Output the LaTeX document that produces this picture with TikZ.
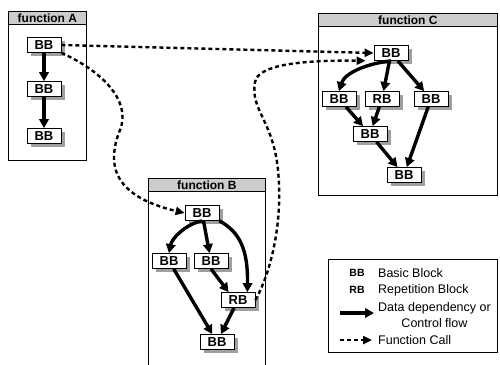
\documentclass[tikz,border=0pt]{standalone}
\usepackage{fontspec}
\setmainfont{Liberation Sans}
\usepackage{tikz}
\usetikzlibrary{arrows.meta,shadows}

\begin{document}
\begin{tikzpicture}[x=1pt, y=-1pt,
  blocknode/.style={draw, thick, fill=white, minimum width=34pt, minimum height=15pt, inner sep=1pt,
    font=\bfseries\fontsize{13}{13}\selectfont,
    drop shadow={shadow xshift=3.5pt, shadow yshift=-3pt, fill=gray!75, opacity=1}},
  titlenode/.style={draw, thick, fill=gray!40, anchor=north west, minimum height=13pt, inner sep=0pt,
    font=\bfseries\fontsize{12}{12}\selectfont},
  legtext/.style={anchor=west, inner sep=2pt, font=\fontsize{12.5}{16}\selectfont},
  legkey/.style={font=\bfseries\fontsize{10.5}{10.5}\selectfont},
  flow/.style={line width=3.4pt, -{Triangle[length=9pt, width=9.5pt]}},
  call/.style={line width=2.4pt, dash pattern=on 4pt off 3pt, -{Triangle[length=9pt, width=8pt]}}]
\useasboundingbox (0,0) rectangle (500,364);
% Functions
\node[titlenode, minimum width=78pt] (fa) at (8,11) {function A};
\draw[thick] (8,11) rectangle (86,160);
\node[titlenode, minimum width=117pt] (fb) at (148,178) {function B};
\draw[thick] (148,366) -- (148,178) -- (265,178) -- (265,366);
\node[titlenode, minimum width=179pt] (fc) at (318,13) {function C};
\draw[thick] (318,13) rectangle (497,195);
% Nodes
\node[blocknode] (a1) at (44, 45) {BB};
\node[blocknode] (a2) at (44, 89) {BB};
\node[blocknode] (a3) at (44, 136) {BB};
\node[blocknode] (b1) at (202, 213) {BB};
\node[blocknode] (b2) at (169, 261) {BB};
\node[blocknode] (b3) at (211, 261) {BB};
\node[blocknode] (b4) at (238, 300) {RB};
\node[blocknode] (b5) at (217, 342) {BB};
\node[blocknode] (c1) at (391, 53) {BB};
\node[blocknode] (c2) at (339, 99) {BB};
\node[blocknode] (c3) at (382, 99) {RB};
\node[blocknode] (c4) at (431, 99) {BB};
\node[blocknode] (c5) at (370, 134) {BB};
\node[blocknode] (c6) at (404, 175) {BB};
% Data dependency / control flow
\draw[flow] (a1) -- (a2);
\draw[flow] (a2) -- (a3);
\draw[flow] (b1.south) .. controls (186,224) and (172,238) .. (b2.north);
\draw[flow] (b1) -- (b3);
\draw[flow] (b1.south east) .. controls (240,232) and (248,250) .. ([xshift=-8pt]b4.north east);
\draw[flow] (b3.south) -- ([xshift=8pt]b4.north west);
\draw[flow] (b2) -- (b5);
\draw[flow] (b4) -- (b5);
\draw[flow] (c1.south) .. controls (370,63) and (345,72) .. (c2.north);
\draw[flow] (c1) -- (c3);
\draw[flow] (c1) -- (c4);
\draw[flow] (c2) -- (c5);
\draw[flow] (c3) -- (c5);
\draw[flow] (c4) -- (c6);
\draw[flow] (c5) -- (c6);
% Function calls
\draw[call] (a1.east) -- (c1.west);
\draw[call] (a1.south east) .. controls (100,70) and (132,100) .. (120,130)
  .. controls (108,160) and (108,195) .. (b1.west);
\draw[call, shorten >=8pt] (b4.east) .. controls (272,270) and (283,220) .. (278,170)
  .. controls (273,120) and (250,110) .. (255,82)
  .. controls (258,65) and (300,60) .. (c1.south west);
% Legend
\draw[thick] (328,259) rectangle (497,352);
\node[legkey] (lbb) at (357,273) {BB};
\node[legtext] (lbbt) at (376,273) {Basic Block};
\node[legkey] (lrb) at (357,290) {RB};
\node[legtext] (lrbt) at (376,290) {Repetition Block};
\node[legtext, align=center] (lflowt) at (376,315) {Data dependency or\\Control flow};
\node[legtext] (lcallt) at (376,340) {Function Call};
\coordinate (lf1) at (340,313);
\coordinate (lf2) at (374,313);
\coordinate (lc1) at (340,340);
\coordinate (lc2) at (372,340);
\draw[flow] (lf1) -- (lf2);
\draw[call] (lc1) -- (lc2);
\end{tikzpicture}
\end{document}
